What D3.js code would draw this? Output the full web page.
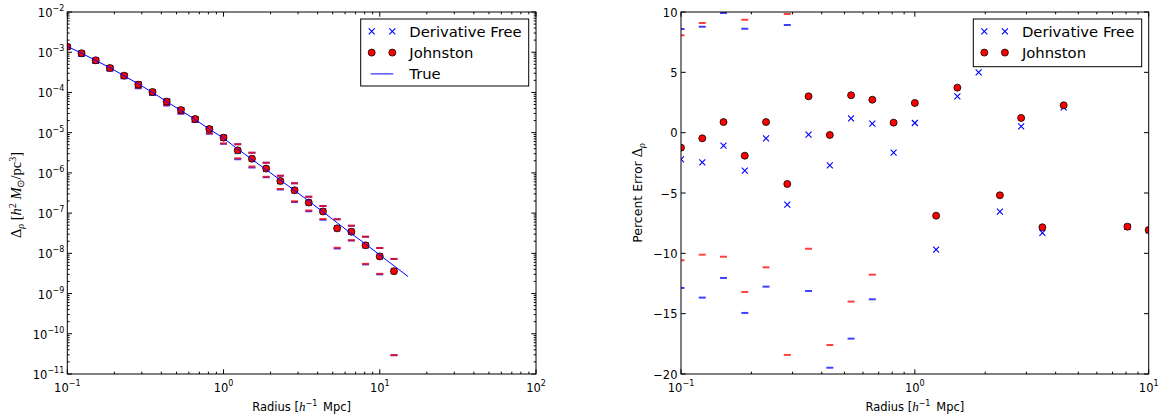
<!DOCTYPE html>
<html><head><meta charset="utf-8">
<script src="https://cdn.jsdelivr.net/npm/d3@7/dist/d3.min.js"></script>
<style>body{margin:0;background:#fff}svg{display:block;font-family:"DejaVu Sans",sans-serif}</style>
</head><body><svg id="c" width="1159" height="420"></svg>
<script>
// ---------------- data ----------------
const radius = [0.1, 0.1233, 0.1520, 0.1874, 0.2310, 0.2848, 0.3511, 0.4329, 0.5337, 0.6579, 0.8111, 1.0,
  1.233, 1.520, 1.874, 2.310, 2.848, 3.511, 4.329, 5.337, 6.579, 8.111, 10.0, 12.33];
const trueRadius = [0.1, 0.1233, 0.1520, 0.1874, 0.2310, 0.2848, 0.3511, 0.4329, 0.5337, 0.6579, 0.8111, 1.0,
  1.233, 1.520, 1.874, 2.310, 2.848, 3.511, 4.329, 5.337, 6.579, 8.111, 10.0, 12.33, 15.20];
const trueValues = [1.40e-3, 9.44e-4, 6.25e-4, 4.13e-4, 2.59e-4, 1.63e-4, 1.00e-4, 5.91e-5, 3.55e-5, 2.13e-5,
  1.22e-5, 7.32e-6, 3.90e-6, 2.17e-6, 1.20e-6, 6.65e-7, 3.65e-7, 1.99e-7, 1.076e-7, 5.75e-8, 3.09e-8,
  1.71e-8, 9.1e-9, 4.9e-9, 2.63e-9];
const johnstonValues = [1.37e-3, 9.4e-4, 6.3e-4, 4.05e-4, 2.61e-4, 1.56e-4, 1.03e-4, 5.9e-5, 3.66e-5, 2.19e-5,
  1.23e-5, 7.5e-6, 3.63e-6, 2.25e-6, 1.28e-6, 6.3e-7, 3.69e-7, 1.83e-7, 1.10e-7, 4.18e-8, 3.44e-8,
  1.58e-8, 8.4e-9, 3.6e-9];
const derivFreeValues = [1.356e-3, 9.21e-4, 6.18e-4, 4.00e-4, 2.58e-4, 1.532e-4, 9.98e-5, 5.75e-5, 3.59e-5, 2.15e-5,
  1.20e-5, 7.38e-6, 3.52e-6, 2.24e-6, 1.26e-6, 6.21e-7, 3.67e-7, 1.82e-7, 1.10e-7, 4.2e-8, 3.45e-8,
  1.58e-8, 8.4e-9, 3.6e-9];
// percent errors
const johnstonErr = [-1.24, -0.47, 0.88, -1.91, 0.88, -4.25, 3.01, -0.19, 3.1, 2.73, 0.83, 2.46,
  -6.88, 3.73, 6.7, -5.19, 1.22, -7.84, 2.27, -27, 11, -7.79, -8.07, -27];
const derivFreeErr = [-2.21, -2.46, -1.08, -3.15, -0.47, -5.97, -0.17, -2.71, 1.19, 0.75, -1.66, 0.8,
  -9.7, 3.01, 5.0, -6.55, 0.53, -8.31, 2.1, -26, 12, -7.8, -8.1, -27];
// percent error bounds
const johnstonUpper = [8.07, 9.09, 11.5, 9.36, 12.0, 9.83, 13, 14, 16, 15, 12, 15, 32, 46, 49, 28, 51, 29, 40, 22, 57, 51, 49, 48];
const johnstonLower = [-10.58, -10.11, -10.28, -13.2, -11.16, -18.42, -9.61, -17.6, -14.0, -11.77, -21, -26,
  -41, -34, -33, -40, -46, -42, -34, -76, -32, -68, -66, -99.4];
const derivFreeUpper = [8.59, 8.78, 9.92, 8.62, 11.0, 8.92, 12, 13, 15, 14, 12, 15, 32, 46, 49, 28, 51, 29, 40, 22, 57, 51, 49, 48];
const derivFreeLower = [-12.87, -13.67, -12.04, -14.94, -12.76, -21.5, -13.12, -19.48, -17.07, -13.81, -23, -28,
  -44, -37, -35, -42, -48, -44, -36, -77, -33, -69, -67, -99.4];
// ticks
const leftXTickExps = [-1, 0, 1, 2];
const leftYTickExps = [-2, -3, -4, -5, -6, -7, -8, -9, -10, -11];
const rightXTickExps = [-1, 0, 1];
const rightYTicks = [10, 5, 0, -5, -10, -15, -20];
const seriesNames = ["Derivative Free", "Johnston", "True"];

// ---------------- drawing ----------------
const svg = d3.select("#c");
const BLUE = "#0000ff", RED = "#ff0000";
const TICKFS = 11.5, SUPFS = 8;
const minus = n => (n < 0 ? "\u2212" + (-n) : "" + n);

const L = {x0: 67.3, x1: 536, y0: 12, y1: 374};
const R = {x0: 681, x1: 1148.7, y0: 12, y1: 374};

const lx = d3.scaleLog().domain([0.1, 100]).range([L.x0, L.x1]);
const ly = d3.scaleLog().domain([1e-11, 1e-2]).range([L.y1, L.y0]);
const rx = d3.scaleLog().domain([0.1, 10]).range([R.x0, R.x1]);
const ry = d3.scaleLinear().domain([-20, 10]).range([R.y1, R.y0]);

const defs = svg.append("defs");
function clip(id, b) {
  defs.append("clipPath").attr("id", id).append("rect")
    .attr("x", b.x0).attr("y", b.y0).attr("width", b.x1 - b.x0).attr("height", b.y1 - b.y0);
}
clip("clipL", L); clip("clipR", R);

function minorLog(lo, hi) {
  const out = [];
  for (let e = lo; e < hi; e++) for (let d = 2; d <= 9; d++) out.push(d * Math.pow(10, e));
  return out;
}

function sciLabel(sel, exp) {
  sel.append("tspan").text("10");
  sel.append("tspan").attr("font-size", SUPFS).attr("dy", -6).text(minus(exp));
}

function drawTicks(g, b, xs, ys, xMajor, xMinor, yMajor, yMinor) {
  const MJ = 4.7, MN = 2.3;
  const t = g.append("g").attr("stroke", "#000").attr("stroke-width", 1);
  xMajor.forEach(v => {
    const x = xs(v);
    t.append("line").attr("x1", x).attr("x2", x).attr("y1", b.y1).attr("y2", b.y1 - MJ);
    t.append("line").attr("x1", x).attr("x2", x).attr("y1", b.y0).attr("y2", b.y0 + MJ);
  });
  xMinor.forEach(v => {
    const x = xs(v);
    t.append("line").attr("x1", x).attr("x2", x).attr("y1", b.y1).attr("y2", b.y1 - MN);
    t.append("line").attr("x1", x).attr("x2", x).attr("y1", b.y0).attr("y2", b.y0 + MN);
  });
  yMajor.forEach(v => {
    const y = ys(v);
    t.append("line").attr("x1", b.x0).attr("x2", b.x0 + MJ).attr("y1", y).attr("y2", y);
    t.append("line").attr("x1", b.x1).attr("x2", b.x1 - MJ).attr("y1", y).attr("y2", y);
  });
  yMinor.forEach(v => {
    const y = ys(v);
    t.append("line").attr("x1", b.x0).attr("x2", b.x0 + MN).attr("y1", y).attr("y2", y);
    t.append("line").attr("x1", b.x1).attr("x2", b.x1 - MN).attr("y1", y).attr("y2", y);
  });
}

function frame(g, b) {
  g.append("rect").attr("x", b.x0).attr("y", b.y0).attr("width", b.x1 - b.x0).attr("height", b.y1 - b.y0)
    .attr("fill", "none").attr("stroke", "#000").attr("stroke-width", 1);
}

function caps(g, xs, ys, xv, yv, color) {
  g.selectAll(null).data(xv.map((x, i) => [x, yv[i]])).enter().append("line")
    .attr("x1", d => xs(d[0]) - 3.5).attr("x2", d => xs(d[0]) + 3.5)
    .attr("y1", d => ys(d[1])).attr("y2", d => ys(d[1]))
    .attr("stroke", color).attr("stroke-width", 2).attr("stroke-opacity", 0.75);
}
const xPath = "M-3,-3L3,3M-3,3L3,-3";
function crosses(g, xs, ys, xv, yv) {
  g.selectAll(null).data(xv.map((x, i) => [x, yv[i]])).enter().append("path")
    .attr("d", xPath).attr("transform", d => `translate(${xs(d[0])},${ys(d[1])})`)
    .attr("fill", "none").attr("stroke", BLUE).attr("stroke-width", 1.1);
}
function dots(g, xs, ys, xv, yv) {
  g.selectAll(null).data(xv.map((x, i) => [x, yv[i]])).enter().append("circle")
    .attr("cx", d => xs(d[0])).attr("cy", d => ys(d[1])).attr("r", 3.5)
    .attr("fill", RED).attr("stroke", "#000").attr("stroke-width", 0.8);
}

// ===== Left plot =====
const gL = svg.append("g");
const dL = gL.append("g").attr("clip-path", "url(#clipL)");
const bound = (arr, i) => trueValues[i] * (1 + arr[i] / 100);
caps(dL, lx, ly, radius, radius.map((r, i) => bound(derivFreeUpper, i)), BLUE);
caps(dL, lx, ly, radius, radius.map((r, i) => bound(derivFreeLower, i)), BLUE);
caps(dL, lx, ly, radius, radius.map((r, i) => bound(johnstonUpper, i)), RED);
caps(dL, lx, ly, radius, radius.map((r, i) => bound(johnstonLower, i)), RED);
crosses(dL, lx, ly, radius, derivFreeValues);
dots(dL, lx, ly, radius, johnstonValues);
dL.append("path").datum(trueRadius.map((r, i) => [r, trueValues[i]]))
  .attr("d", d3.line().x(d => lx(d[0])).y(d => ly(d[1])))
  .attr("fill", "none").attr("stroke", BLUE).attr("stroke-width", 1);

frame(gL, L);
drawTicks(gL, L, lx, ly, leftXTickExps.map(e => Math.pow(10, e)), minorLog(-1, 2),
  leftYTickExps.map(e => Math.pow(10, e)), minorLog(-11, -2));

leftXTickExps.forEach(e => {
  const t = gL.append("text").attr("x", lx(Math.pow(10, e))).attr("y", 391.5)
    .attr("text-anchor", "middle").attr("font-size", TICKFS);
  sciLabel(t, e);
});
leftYTickExps.forEach(e => {
  const t = gL.append("text").attr("x", L.x0 - 3).attr("y", ly(Math.pow(10, e)) + 5)
    .attr("text-anchor", "end").attr("font-size", TICKFS);
  sciLabel(t, e);
});

function xLabel(g, cx) {
  const t = g.append("text").attr("x", cx).attr("y", 410.5).attr("text-anchor", "middle").attr("font-size", 11.5);
  t.append("tspan").text("Radius [");
  t.append("tspan").attr("font-family", "Liberation Serif").attr("font-style", "italic").attr("font-size", 13).text("h");
  t.append("tspan").attr("font-size", 8).attr("dy", -5).text("\u22121");
  t.append("tspan").attr("dy", 5).text("\u2002Mpc]");
}
xLabel(gL, (L.x0 + L.x1) / 2);

// left y label
{
  const t = gL.append("text").attr("transform", `translate(21,${(L.y0 + L.y1) / 2 + 2}) rotate(-90)`)
    .attr("text-anchor", "middle").attr("font-family", "Liberation Serif").attr("font-size", 14.5);
  t.append("tspan").text("\u0394");
  t.append("tspan").attr("font-style", "italic").attr("font-size", 10).attr("dy", 3).text("\u03c1");
  t.append("tspan").attr("dy", -3).text(" [");
  t.append("tspan").attr("font-style", "italic").text("h");
  t.append("tspan").attr("font-size", 10).attr("dy", -5.5).text("2");
  t.append("tspan").attr("dy", 5.5).attr("font-style", "italic").text(" M");
  t.append("tspan").attr("font-size", 10).attr("dy", 3).text("\u2299");
  t.append("tspan").attr("dy", -3).text("/pc");
  t.append("tspan").attr("font-size", 10).attr("dy", -5.5).text("3");
  t.append("tspan").attr("dy", 5.5).text("]");
}

// legend
function legend(g, x, y, w, h, items) {
  g.append("rect").attr("x", x).attr("y", y).attr("width", w).attr("height", h)
    .attr("fill", "#fff").attr("stroke", "#000").attr("stroke-width", 1);
  items.forEach((it, i) => {
    const cy = y + 12.3 + i * 21.3;
    const m1 = x + 11, m2 = x + 31.6;
    if (it.type === "x") {
      [m1, m2].forEach(mx => g.append("path").attr("d", xPath).attr("transform", `translate(${mx},${cy})`)
        .attr("fill", "none").attr("stroke", BLUE).attr("stroke-width", 1.1));
    } else if (it.type === "o") {
      [m1, m2].forEach(mx => g.append("circle").attr("cx", mx).attr("cy", cy).attr("r", 3.5)
        .attr("fill", RED).attr("stroke", "#000").attr("stroke-width", 0.8));
    } else {
      g.append("line").attr("x1", m1 - 1).attr("x2", m2 + 1).attr("y1", cy).attr("y2", cy)
        .attr("stroke", BLUE).attr("stroke-width", 1);
    }
    g.append("text").attr("x", x + 48.6).attr("y", cy + 5.5).attr("font-size", 14.8).text(it.name);
  });
}
legend(gL, 360.7, 19, 168, 67, [
  {name: seriesNames[0], type: "x"}, {name: seriesNames[1], type: "o"}, {name: seriesNames[2], type: "l"}]);

// ===== Right plot =====
const gR = svg.append("g");
const dR = gR.append("g").attr("clip-path", "url(#clipR)");
caps(dR, rx, ry, radius, derivFreeUpper, BLUE);
caps(dR, rx, ry, radius, derivFreeLower, BLUE);
caps(dR, rx, ry, radius, johnstonUpper, RED);
caps(dR, rx, ry, radius, johnstonLower, RED);
crosses(dR, rx, ry, radius, derivFreeErr);
dots(dR, rx, ry, radius, johnstonErr);

frame(gR, R);
drawTicks(gR, R, rx, ry, rightXTickExps.map(e => Math.pow(10, e)), minorLog(-1, 1), rightYTicks, []);
rightXTickExps.forEach(e => {
  const t = gR.append("text").attr("x", rx(Math.pow(10, e))).attr("y", 391.5)
    .attr("text-anchor", "middle").attr("font-size", TICKFS);
  sciLabel(t, e);
});
rightYTicks.forEach(v => {
  gR.append("text").attr("x", R.x0 - 3.5).attr("y", ry(v) + 4.6)
    .attr("text-anchor", "end").attr("font-size", TICKFS).text(minus(v));
});
xLabel(gR, (R.x0 + R.x1) / 2);
{
  const t = gR.append("text").attr("transform", `translate(642,${(R.y0 + R.y1) / 2}) rotate(-90)`)
    .attr("text-anchor", "middle").attr("font-size", 12.5);
  t.append("tspan").text("Percent Error ");
  t.append("tspan").attr("font-family", "Liberation Serif").attr("font-size", 14.5).text("\u0394");
  t.append("tspan").attr("font-family", "Liberation Serif").attr("font-style", "italic").attr("font-size", 10).attr("dy", 3).text("\u03c1");
}
legend(gR, 973.3, 19, 168.4, 47.7, [
  {name: seriesNames[0], type: "x"}, {name: seriesNames[1], type: "o"}]);
</script>
</body></html>
